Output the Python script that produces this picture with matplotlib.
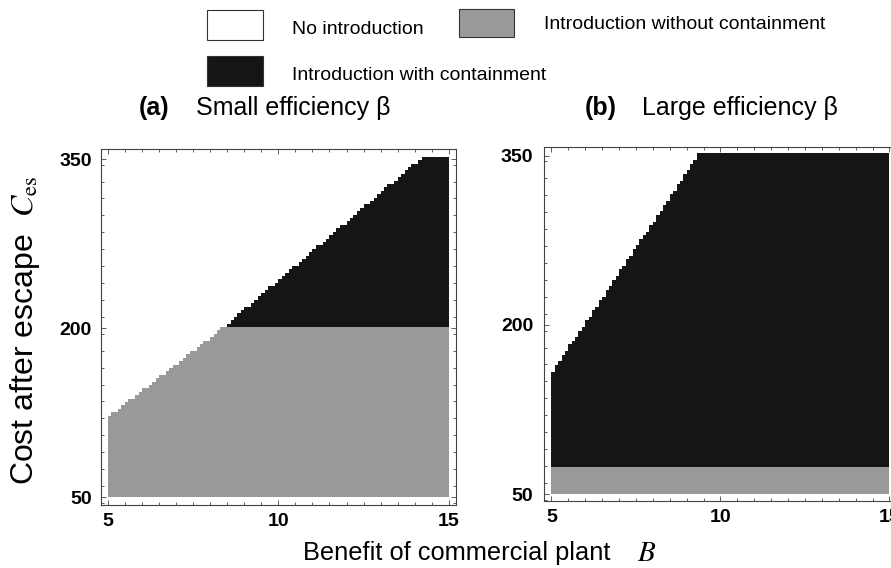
import numpy as np
import matplotlib
matplotlib.use("Agg")
import matplotlib.pyplot as plt
from matplotlib.colors import ListedColormap
from matplotlib.patches import Rectangle
from matplotlib.ticker import MultipleLocator

plt.rcParams['font.family'] = ['Liberation Sans', 'DejaVu Sans']
plt.rcParams['mathtext.fontset'] = 'stix'

# boundary: introduction happens below the edge line,
# containment is chosen above the horizontal threshold
a_edge_B = [5.0, 8.36, 14.16]
a_edge_C = [121, 200, 350]
a_contain_C = 200

b_edge_B = [5.0, 9.33]
b_edge_C = [157, 350]
b_contain_C = 75

region_colors = ['#ffffff', '#999999', '#151515']
legend_labels = ['No introduction', 'Introduction without containment',
                 'Introduction with containment']

B_edges = np.linspace(5, 15, 101)
C_edges = np.linspace(50, 352, 101)
B_mid = (B_edges[:-1] + B_edges[1:]) / 2
C_mid = (C_edges[:-1] + C_edges[1:]) / 2


def classify(edge_B, edge_C, contain_C):
    BB, CC = np.meshgrid(B_mid, C_mid)
    limit = np.interp(BB, edge_B, edge_C, right=np.inf)
    z = np.zeros_like(BB)
    intro = CC <= limit
    z[intro & (CC <= contain_C)] = 1
    z[intro & (CC > contain_C)] = 2
    return z


cmap = ListedColormap(region_colors)

fig = plt.figure(figsize=(8.91, 5.68), dpi=100)
ax_a = fig.add_axes([0.1130, 0.1109, 0.3984, 0.6268])
ax_b = fig.add_axes([0.6109, 0.1180, 0.3950, 0.6227])

panels = [
    (ax_a, classify(a_edge_B, a_edge_C, a_contain_C), (43.2, 358.9), 6.5),
    (ax_b, classify(b_edge_B, b_edge_C, b_contain_C), (44.1, 357.4), 8.0),
]
for ax, z, ylim, ypad in panels:
    ax.pcolormesh(B_edges, C_edges, z, cmap=cmap, vmin=-0.5, vmax=2.5,
                  shading='flat')
    ax.set_xlim(4.79, 15.2)
    ax.set_ylim(*ylim)
    ax.xaxis.set_major_locator(MultipleLocator(5))
    ax.xaxis.set_minor_locator(MultipleLocator(0.5))
    ax.set_yticks([50, 200, 350])
    ax.yaxis.set_minor_locator(MultipleLocator(15))
    ax.tick_params(which='both', direction='in', top=True, right=True,
                   color='#444444', width=0.6)
    ax.tick_params(which='major', length=3.5, labelsize=14)
    ax.tick_params(which='minor', length=2)
    ax.tick_params(axis='x', pad=6)
    ax.tick_params(axis='y', pad=ypad)
    for lab in ax.get_xticklabels() + ax.get_yticklabels():
        lab.set_fontweight('bold')
    for sp in ax.spines.values():
        sp.set_color('#444444')
        sp.set_linewidth(0.8)

# legend boxes
boxes = [
    (0.2327, 0.9296, 0.0622, 0.0528, region_colors[0]),
    (0.5155, 0.9354, 0.0614, 0.0488, region_colors[1]),
    (0.2327, 0.8486, 0.0622, 0.0533, region_colors[2]),
]
for x0, y0, w, h, c in boxes:
    fig.add_artist(Rectangle((x0, y0), w, h, transform=fig.transFigure,
                             facecolor=c, edgecolor='#333333', linewidth=0.8))
fig.text(0.3277, 0.9489, legend_labels[0], fontsize=14, va='center')
fig.text(0.6109, 0.9560, legend_labels[1], fontsize=14, va='center')
fig.text(0.3277, 0.8662, legend_labels[2], fontsize=14, va='center')

# panel titles
fig.text(0.156, 0.8099, '(a)', fontsize=18, fontweight='bold', va='center')
fig.text(0.220, 0.8099, 'Small efficiency β', fontsize=18, va='center')
fig.text(0.6566, 0.8099, '(b)', fontsize=18, fontweight='bold', va='center')
fig.text(0.7205, 0.8099, 'Large efficiency β', fontsize=18, va='center')

# axis labels
fig.text(0.028, 0.419, r'Cost after escape  $C_{\mathrm{es}}$', fontsize=23,
         rotation=90, ha='center', va='center')
fig.text(0.340, 0.0264, 'Benefit of commercial plant', fontsize=18.3,
         ha='left', va='center')
fig.text(0.7145, 0.0264, r'$B$', fontsize=21, ha='left', va='center')

fig.savefig('out.png', dpi=100)
